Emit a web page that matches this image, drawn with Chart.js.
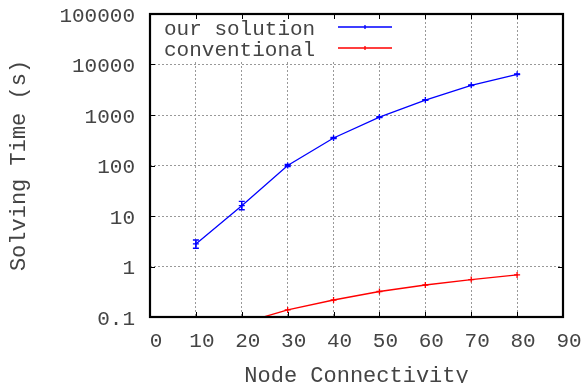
<!DOCTYPE html>
<html>
<head>
<meta charset="utf-8">
<script src="https://cdn.jsdelivr.net/npm/chart.js@4"></script>
<style>
html,body{margin:0;padding:0;background:#fff;}
#wrap{width:584px;height:383px;position:relative;}
</style>
</head>
<body>
<div id="wrap"><canvas id="c" width="584" height="383"></canvas></div>
<script>
// ---- data ----
const ourX = [10, 20, 30, 40, 50, 60, 70, 80];
const ourY = [2.8, 16, 100, 350, 910, 1980, 3870, 6400];
const ourLow = [2.3, 13.3, 95, 340, 890, 1940, 3800, 6300];
const ourHigh = [3.35, 19.5, 105, 360, 930, 2020, 3940, 6500];
const convX = [20, 30, 40, 50, 60, 70, 80];
const convY = [0.075, 0.138, 0.217, 0.32, 0.43, 0.55, 0.68];
const xTicks = [0, 10, 20, 30, 40, 50, 60, 70, 80, 90];
const yTicks = [0.1, 1, 10, 100, 1000, 10000, 100000];
const seriesNames = ['our solution', 'conventional'];
const seriesColors = ['#0000ff', '#ff0000'];
const xTitle = 'Node Connectivity';
const yTitle = 'Solving Time (s)';

const FONT = '"Liberation Mono", "DejaVu Sans Mono", monospace';
const TXT = '#444';

function pts(xs, ys) { return xs.map((x, i) => ({x: x, y: ys[i]})); }

const errorBars = {
  id: 'errorBars',
  afterDatasetsDraw(chart) {
    const ctx = chart.ctx, xs = chart.scales.x, ys = chart.scales.y;
    ctx.save();
    ctx.beginPath();
    ctx.rect(chart.chartArea.left, chart.chartArea.top, chart.chartArea.right - chart.chartArea.left, chart.chartArea.bottom - chart.chartArea.top);
    ctx.clip();
    ctx.strokeStyle = seriesColors[0];
    ctx.lineWidth = 1.3;
    ourX.forEach((x, i) => {
      const px = xs.getPixelForValue(x);
      const lo = ys.getPixelForValue(ourLow[i]);
      const hi = ys.getPixelForValue(ourHigh[i]);
      ctx.beginPath();
      ctx.moveTo(px, lo); ctx.lineTo(px, hi);
      ctx.moveTo(px - 3, lo); ctx.lineTo(px + 3, lo);
      ctx.moveTo(px - 3, hi); ctx.lineTo(px + 3, hi);
      ctx.stroke();
    });
    ctx.restore();
  }
};

const keyBox = {
  id: 'keyBox',
  beforeDatasetsDraw(chart) {
    const ctx = chart.ctx, a = chart.chartArea;
    ctx.save();
    ctx.fillStyle = '#fff';
    ctx.fillRect(a.left, a.top, 265, 48);
    ctx.font = '21px ' + FONT;
    ctx.fillStyle = TXT;
    ctx.textBaseline = 'middle';
    ctx.textAlign = 'left';
    const rows = [15, 36];
    seriesNames.forEach((n, i) => {
      const y = a.top + rows[i];
      ctx.fillText(n, a.left + 14, y);
      ctx.strokeStyle = seriesColors[i];
      ctx.lineWidth = 1.3;
      ctx.beginPath();
      ctx.moveTo(a.left + 188, y - 2); ctx.lineTo(a.left + 242, y - 2);
      ctx.moveTo(a.left + 215, y - 4); ctx.lineTo(a.left + 215, y);
      ctx.moveTo(a.left + 213, y - 2); ctx.lineTo(a.left + 217, y - 2);
      ctx.stroke();
    });
    ctx.restore();
  },
  afterDraw(chart) {
    const ctx = chart.ctx, a = chart.chartArea, xs = chart.scales.x, ys = chart.scales.y;
    ctx.save();
    ctx.strokeStyle = '#000';
    ctx.lineWidth = 1;
    ctx.beginPath();
    xs.ticks.forEach(t => {
      const px = Math.round(xs.getPixelForValue(t.value)) + 0.5;
      ctx.moveTo(px, a.top); ctx.lineTo(px, a.top + 5);
      ctx.moveTo(px, a.bottom); ctx.lineTo(px, a.bottom - 5);
    });
    ys.ticks.forEach(t => {
      const py = Math.round(ys.getPixelForValue(t.value)) + 0.5;
      ctx.moveTo(a.left, py); ctx.lineTo(a.left + 5, py);
      ctx.moveTo(a.right, py); ctx.lineTo(a.right - 5, py);
    });
    ctx.stroke();
    ctx.lineWidth = 2.2;
    ctx.strokeRect(a.left, a.top, a.right - a.left, a.bottom - a.top);
    ctx.restore();
  }
};

function noPad(s) { s.paddingTop = 0; s.paddingBottom = 0; s.paddingLeft = 0; s.paddingRight = 0; }

new Chart(document.getElementById('c'), {
  type: 'line',
  data: {
    datasets: [
      {label: seriesNames[0], data: pts(ourX, ourY), borderColor: seriesColors[0], backgroundColor: seriesColors[0],
       borderWidth: 1.3, pointStyle: 'cross', pointRadius: 3, pointBorderWidth: 1.3, tension: 0},
      {label: seriesNames[1], data: pts(convX, convY), borderColor: seriesColors[1], backgroundColor: seriesColors[1],
       borderWidth: 1.3, pointStyle: 'cross', pointRadius: 3, pointBorderWidth: 1.3, tension: 0}
    ]
  },
  options: {
    responsive: false,
    animation: false,
    devicePixelRatio: 1,
    layout: {padding: {left: 0, right: 21, top: 14, bottom: 0}},
    plugins: {legend: {display: false}, tooltip: {enabled: false}},
    scales: {
      x: {
        type: 'linear', min: 0, max: 90,
        afterBuildTicks(s) { s.ticks = xTicks.map(v => ({value: v})); },
        afterFit(s) { s.height = 66; noPad(s); },
        ticks: {font: {family: FONT, size: 21}, color: TXT, padding: 12, labelOffset: 6, maxRotation: 0,
                callback: v => String(v)},
        grid: {color: '#999', drawTicks: false, lineWidth: 1},
        border: {display: false, dash: [2, 2]},
        title: {display: true, text: xTitle, font: {family: FONT, size: 22}, color: TXT, padding: {top: 0, bottom: -6}}
      },
      y: {
        type: 'logarithmic', min: 0.1, max: 100000,
        afterBuildTicks(s) { s.ticks = yTicks.map(v => ({value: v})); },
        afterFit(s) { s.width = 150; noPad(s); },
        ticks: {font: {family: FONT, size: 21}, color: TXT, padding: 15, labelOffset: 2,
                callback: v => String(v)},
        grid: {color: '#999', drawTicks: false, lineWidth: 1},
        border: {display: false, dash: [2, 2]},
        title: {display: true, text: yTitle, font: {family: FONT, size: 22}, color: TXT, padding: {top: 6, bottom: 0}}
      }
    }
  },
  plugins: [keyBox, errorBars]
});
</script>
</body>
</html>
